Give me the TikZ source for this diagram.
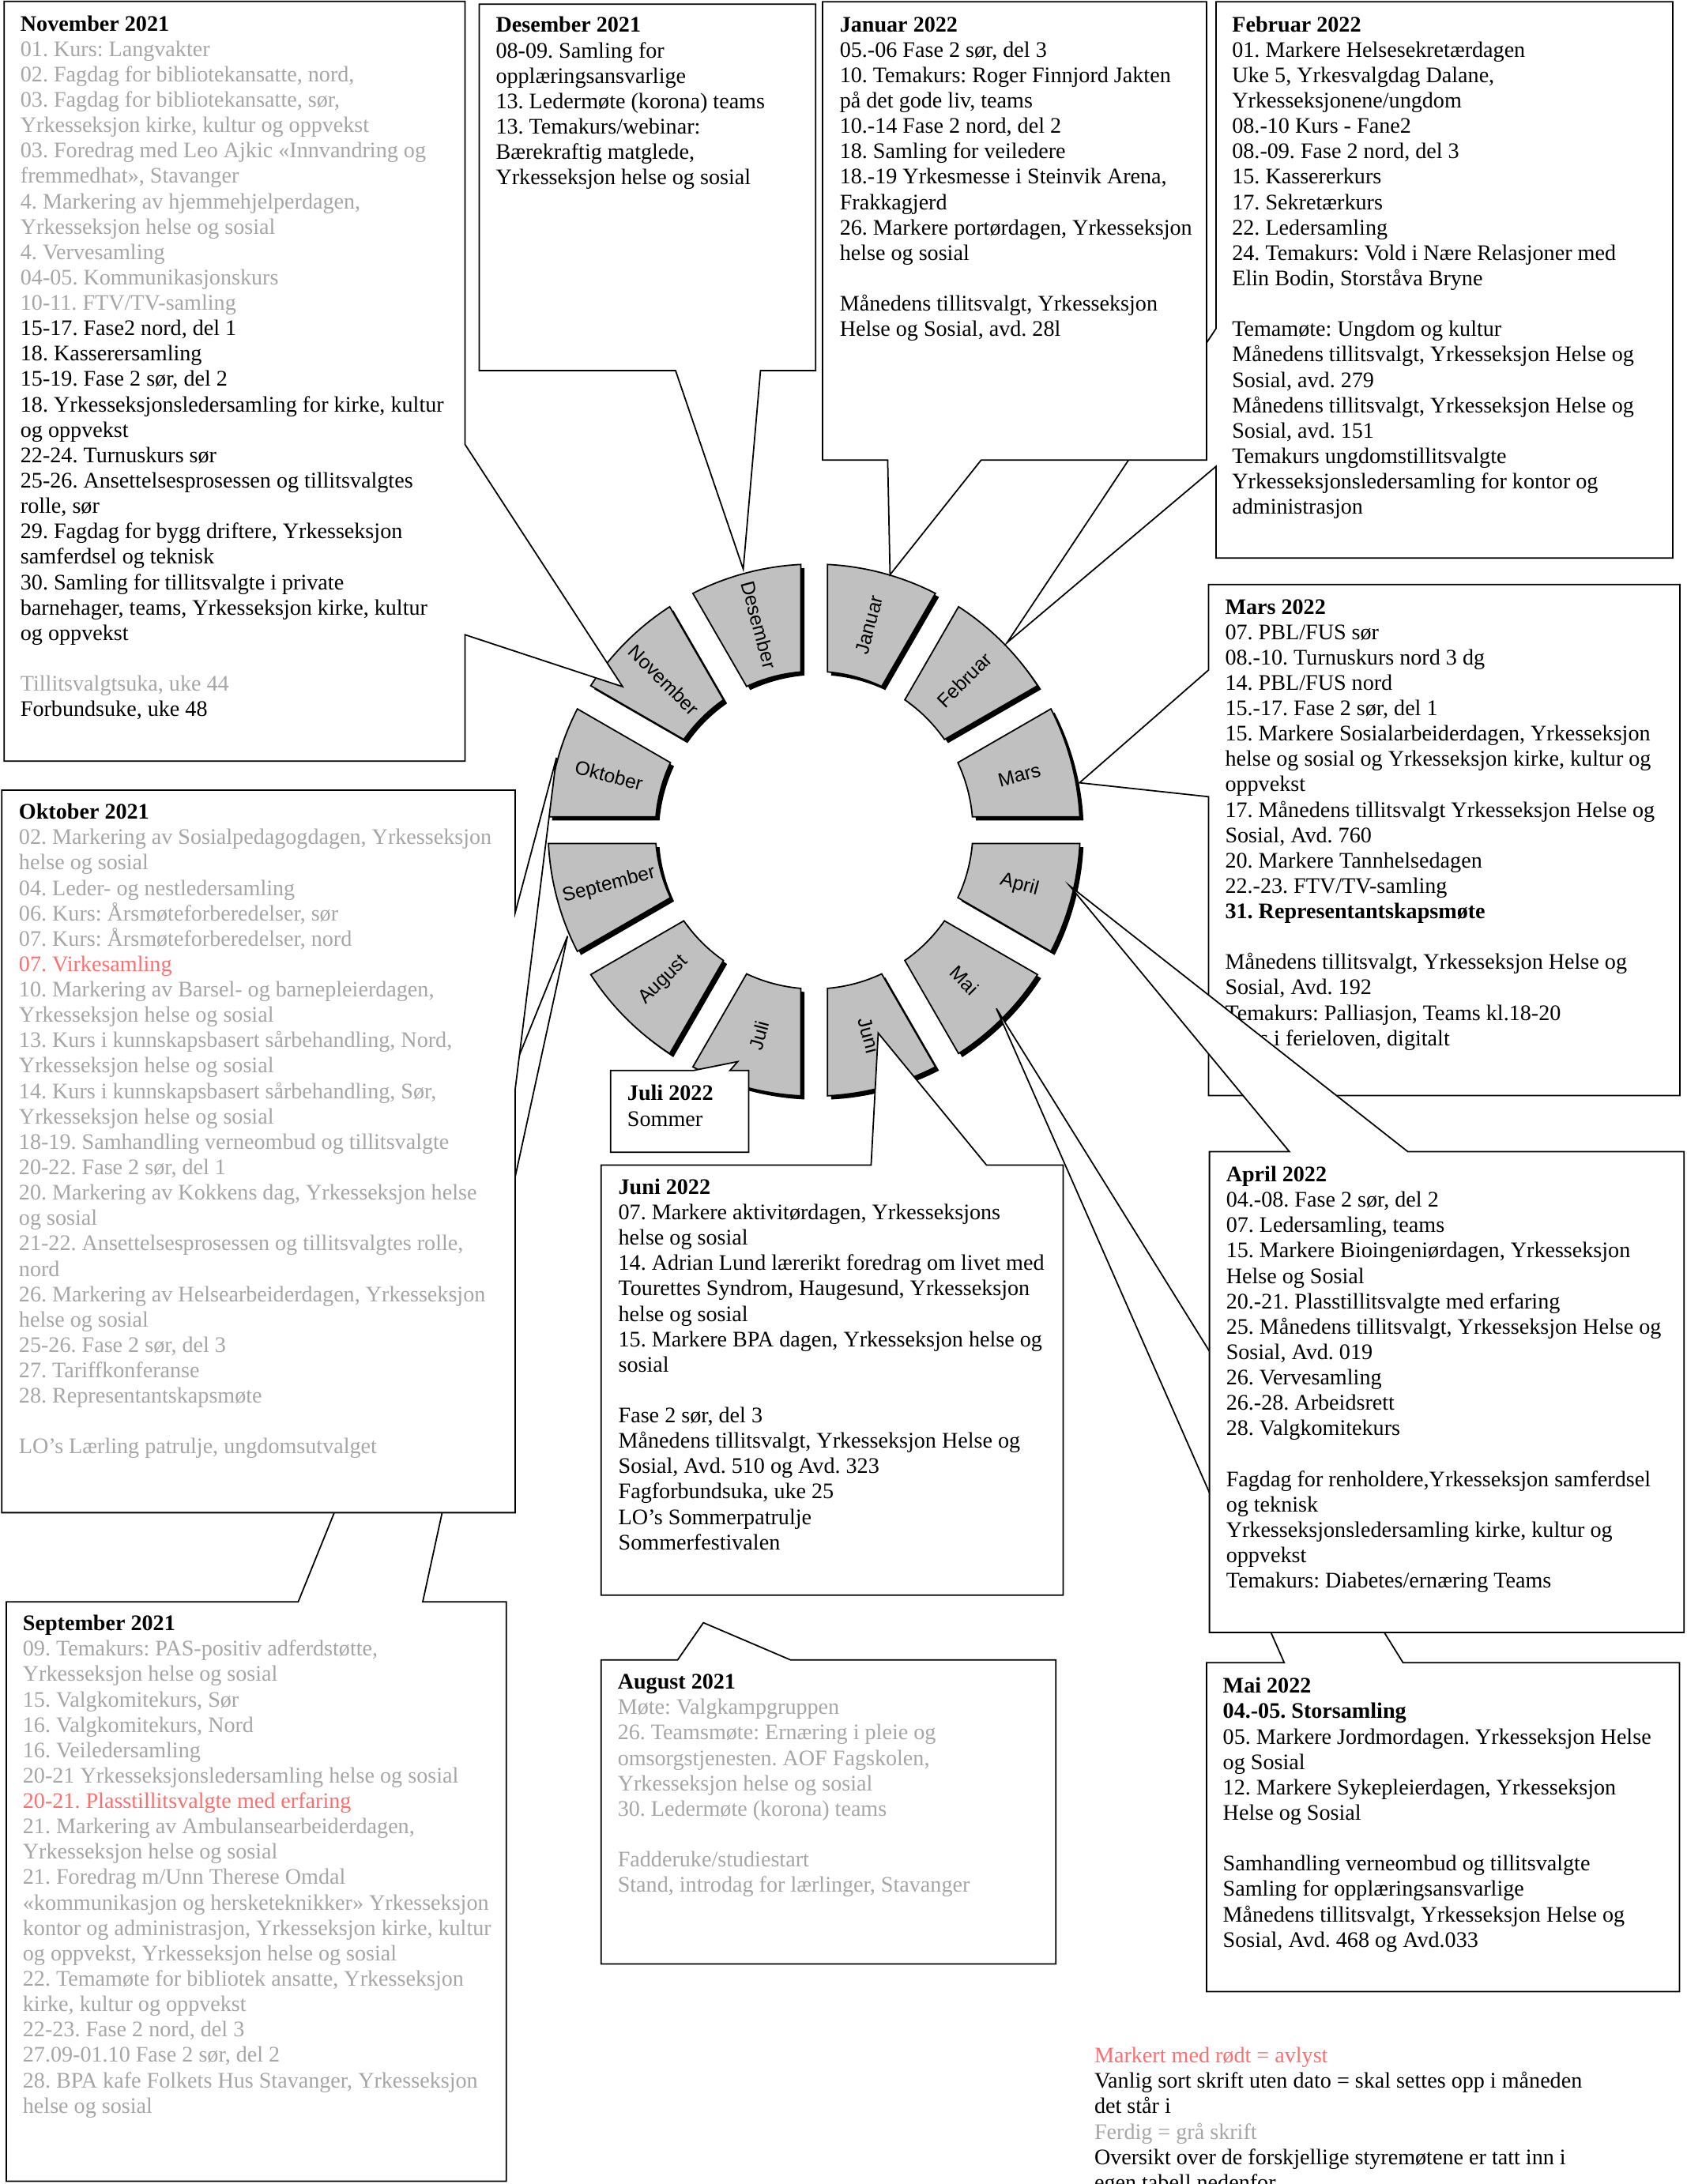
\documentclass[tikz,border=0pt]{standalone}
\usepackage{fontspec}
\setmainfont{Liberation Serif}
\newfontfamily\arialf{Liberation Sans}
\definecolor{gtx}{RGB}{166,166,166}
\definecolor{rtx}{RGB}{255,110,110}
\definecolor{seg}{RGB}{192,192,192}
\newcommand\gy{\color{gtx}}
\newcommand\rd{\color{rtx}}
\newcommand\bl{\\[\baselineskip]}
\newenvironment{boxtext}[1]{\begin{minipage}[t]{#1}\raggedright\leavevmode\ignorespaces}{\end{minipage}}
\begin{document}
\frenchspacing
\begin{tikzpicture}[x=0.017622cm, y=-0.017622cm,
  callout/.style={draw=black, fill=white, line width=0.5pt, line join=miter},
  txt/.style={anchor=base west, inner sep=0pt, font=\fontsize{8}{9.14}\selectfont},
  seglabel/.style={font=\arialf\fontsize{7}{8}\selectfont, inner sep=0pt}]
\useasboundingbox[fill=white] (0,0) rectangle (1211,1568);

% ---------------- ring ----------------
\begin{scope}[shift={(584.5,596)}, x=0.017622cm, y=0.017622cm]
  \begin{scope}[shift={(2.6,-2.6)}]
  \foreach \a in {60,30,0,-30,-60,-90,-120,-150,-180,150,120,90} {
    \pgfmathsetmacro\ao{\a+2.88}\pgfmathsetmacro\bo{\a+30-2.88}
    \pgfmathsetmacro\ai{\a+4.83}\pgfmathsetmacro\bi{\a+30-4.83}
    \fill[black] (\ao:191) arc[start angle=\ao, end angle=\bo, radius=191]
      -- (\bi:114) arc[start angle=\bi, end angle=\ai, radius=114] -- cycle;
  }
  \end{scope}
  \foreach \a in {60,30,0,-30,-60,-90,-120,-150,-180,150,120,90} {
    \pgfmathsetmacro\ao{\a+2.88}\pgfmathsetmacro\bo{\a+30-2.88}
    \pgfmathsetmacro\ai{\a+4.83}\pgfmathsetmacro\bi{\a+30-4.83}
    \filldraw[fill=seg, draw=black, line width=0.5pt] (\ao:191) arc[start angle=\ao, end angle=\bo, radius=191]
      -- (\bi:114) arc[start angle=\bi, end angle=\ai, radius=114] -- cycle;
  }
  \foreach \a/\nm/\r in {75/Januar/75, 45/Februar/45, 15/Mars/15, -15/April/-15,
      -45/Mai/-45, -75/Juni/-75, -105/Juli/75, -135/August/45, -165/September/15,
      165/Oktober/-15, 135/November/-45, 105/Desember/-75}
    \node[seglabel, rotate=\r] (m\nm) at (\a:152.5) {\nm};
\end{scope}

% ---------------- callouts ----------------
% Februar
\draw[callout] (873.1,1.3) -- (1200.9,1.3) -- (1200.9,400.7) -- (873.1,400.7) -- (873.1,334.8)
  -- (723,461.4) -- (873.1,235.8) -- cycle;
\node[txt] (tFeb) at (884.2,22.8) {\begin{boxtext}{5.5cm}
\textbf{Februar 2022}\\
01. Markere Helsesekretærdagen\\
Uke 5, Yrkesvalgdag Dalane,\\
Yrkesseksjonene/ungdom\\
08.-10 Kurs - Fane2\\
08.-09. Fase 2 nord, del 3\\
15. Kassererkurs\\
17. Sekretærkurs\\
22. Ledersamling\\
24. Temakurs: Vold i Nære Relasjoner med\\
Elin Bodin, Storståva Bryne\bl
Temamøte: Ungdom og kultur\\
Månedens tillitsvalgt, Yrkesseksjon Helse og\\
Sosial, avd. 279\\
Månedens tillitsvalgt, Yrkesseksjon Helse og\\
Sosial, avd. 151\\
Temakurs ungdomstillitsvalgte\\
Yrkesseksjonsledersamling for kontor og\\
administrasjon
\end{boxtext}};

% Januar
\draw[callout] (590.6,1.3) -- (866.3,1.3) -- (866.3,330.3) -- (704.4,330.3) -- (639,412.6)
  -- (637.3,330.3) -- (590.6,330.3) -- cycle;
\node[txt] (tJan) at (602.5,22.8) {\begin{boxtext}{4.58cm}
\textbf{Januar 2022}\\
05.-06 Fase 2 sør, del 3\\
10. Temakurs: Roger Finnjord Jakten\\
på det gode liv, teams\\
10.-14 Fase 2 nord, del 2\\
18. Samling for veiledere\\
18.-19 Yrkesmesse i Steinvik Arena,\\
Frakkagjerd\\
26. Markere portørdagen, Yrkesseksjon\\
helse og sosial\bl
Månedens tillitsvalgt, Yrkesseksjon\\
Helse og Sosial, avd. 28l
\end{boxtext}};

% Desember
\draw[callout] (344,3) -- (585.6,3) -- (585.6,266) -- (546,266) -- (533.6,408.6)
  -- (485,266) -- (344,266) -- cycle;
\node[txt] (tDes) at (355.6,23.2) {\begin{boxtext}{4.0cm}
\textbf{Desember 2021}\\
08-09. Samling for\\
opplæringsansvarlige\\
13. Ledermøte (korona) teams\\
13. Temakurs/webinar:\\
Bærekraftig matglede,\\
Yrkesseksjon helse og sosial
\end{boxtext}};

% November
\draw[callout] (3,1) -- (333.8,1) -- (333.8,319) -- (447,493) -- (333.8,455.7)
  -- (333.8,546.5) -- (3,546.5) -- cycle;
\node[txt] (tNov) at (14.3,22.2) {\begin{boxtext}{5.55cm}
\textbf{November 2021}\\
{\gy 01. Kurs: Langvakter\\
02. Fagdag for bibliotekansatte, nord,\\
03. Fagdag for bibliotekansatte, sør,\\
Yrkesseksjon kirke, kultur og oppvekst\\
03. Foredrag med Leo Ajkic «Innvandring og\\
fremmedhat», Stavanger\\
4. Markering av hjemmehjelperdagen,\\
Yrkesseksjon helse og sosial\\
4. Vervesamling\\
04-05. Kommunikasjonskurs\\
10-11. FTV/TV-samling}\\
15-17. Fase2 nord, del 1\\
18. Kasserersamling\\
15-19. Fase 2 sør, del 2\\
18. Yrkesseksjonsledersamling for kirke, kultur\\
og oppvekst\\
22-24. Turnuskurs sør\\
25-26. Ansettelsesprosessen og tillitsvalgtes\\
rolle, sør\\
29. Fagdag for bygg driftere, Yrkesseksjon\\
samferdsel og teknisk\\
30. Samling for tillitsvalgte i private\\
barnehager, teams, Yrkesseksjon kirke, kultur\\
og oppvekst\bl
{\gy Tillitsvalgtsuka, uke 44}\\
Forbundsuke, uke 48
\end{boxtext}};

% Mars
\draw[callout] (867.7,419.7) -- (1206,419.7) -- (1206,786.5) -- (867.7,786.5) -- (867.7,572)
  -- (775,562) -- (867.7,481) -- cycle;
\node[txt] (tMar) at (879.2,440.8) {\begin{boxtext}{5.69cm}
\textbf{Mars 2022}\\
07. PBL/FUS sør\\
08.-10. Turnuskurs nord 3 dg\\
14. PBL/FUS nord\\
15.-17. Fase 2 sør, del 1\\
15. Markere Sosialarbeiderdagen, Yrkesseksjon\\
helse og sosial og Yrkesseksjon kirke, kultur og\\
oppvekst\\
17. Månedens tillitsvalgt Yrkesseksjon Helse og\\
Sosial, Avd. 760\\
20. Markere Tannhelsedagen\\
22.-23. FTV/TV-samling\\
\textbf{31. Representantskapsmøte}\bl
Månedens tillitsvalgt, Yrkesseksjon Helse og\\
Sosial, Avd. 192\\
Temakurs: Palliasjon, Teams kl.18-20\\
Kurs i ferieloven, digitalt
\end{boxtext}};

% Mai
\draw[callout] (866.2,1193.7) -- (922,1193.7) -- (715.3,724) -- (1007.3,1193.7) -- (1205.8,1193.7)
  -- (1205.8,1429.8) -- (866.2,1429.8) -- cycle;
\node[txt] (tMai) at (877.6,1215.6) {\begin{boxtext}{5.7cm}
\textbf{Mai 2022}\\
\textbf{04.-05. Storsamling}\\
05. Markere Jordmordagen. Yrkesseksjon Helse\\
og Sosial\\
12. Markere Sykepleierdagen, Yrkesseksjon\\
Helse og Sosial\bl
Samhandling verneombud og tillitsvalgte\\
Samling for opplæringsansvarlige\\
Månedens tillitsvalgt, Yrkesseksjon Helse og\\
Sosial, Avd. 468 og Avd.033
\end{boxtext}};

% April
\draw[callout] (868.3,826.8) -- (925.7,826.8) -- (768,636) -- (1010.7,826.8) -- (1209,826.8)
  -- (1209,1172) -- (868.3,1172) -- cycle;
\node[txt] (tApr) at (879.9,848.4) {\begin{boxtext}{5.73cm}
\textbf{April 2022}\\
04.-08. Fase 2 sør, del 2\\
07. Ledersamling, teams\\
15. Markere Bioingeniørdagen, Yrkesseksjon\\
Helse og Sosial\\
20.-21. Plasstillitsvalgte med erfaring\\
25. Månedens tillitsvalgt, Yrkesseksjon Helse og\\
Sosial, Avd. 019\\
26. Vervesamling\\
26.-28. Arbeidsrett\\
28. Valgkomitekurs\bl
Fagdag for renholdere,Yrkesseksjon samferdsel\\
og teknisk\\
Yrkesseksjonsledersamling kirke, kultur og\\
oppvekst\\
Temakurs: Diabetes/ernæring Teams
\end{boxtext}};

% Juni
\draw[callout] (431.5,836.4) -- (625.4,836.4) -- (630.5,741.7) -- (708.2,836.4) -- (763.3,836.4)
  -- (763.3,1145.2) -- (431.5,1145.2) -- cycle;
\node[txt] (tJun) at (443.6,857.4) {\begin{boxtext}{5.57cm}
\textbf{Juni 2022}\\
07. Markere aktivitørdagen, Yrkesseksjons\\
helse og sosial\\
14. Adrian Lund lærerikt foredrag om livet med\\
Tourettes Syndrom, Haugesund, Yrkesseksjon\\
helse og sosial\\
15. Markere BPA dagen, Yrkesseksjon helse og\\
sosial\bl
Fase 2 sør, del 3\\
Månedens tillitsvalgt, Yrkesseksjon Helse og\\
Sosial, Avd. 510 og Avd. 323\\
Fagforbundsuka, uke 25\\
LO’s Sommerpatrulje\\
Sommerfestivalen
\end{boxtext}};

% Juli
\draw[callout] (438.4,768.6) -- (497.5,768.6) -- (529.6,762.2) -- (524,768.6) -- (537.5,768.6)
  -- (537.5,827.2) -- (438.4,827.2) -- cycle;
\node[txt] (tJul) at (450,790.2) {\begin{boxtext}{1.45cm}
\textbf{Juli 2022}\\
Sommer
\end{boxtext}};

% August
\draw[callout] (431.5,1191.7) -- (486.5,1191.7) -- (505,1165) -- (567.5,1191.7) -- (758,1191.7)
  -- (758,1410) -- (431.5,1410) -- cycle;
\node[txt] (tAug) at (443.1,1212.7) {\begin{boxtext}{5.48cm}
\textbf{August 2021}\\
{\gy Møte: Valgkampgruppen\\
26. Teamsmøte: Ernæring i pleie og\\
omsorgstjenesten. AOF Fagskolen,\\
Yrkesseksjon helse og sosial\\
30. Ledermøte (korona) teams\bl
Fadderuke/studiestart\\
Stand, introdag for lærlinger, Stavanger}
\end{boxtext}};

% September
\draw[callout] (4.6,1150) -- (214.1,1150) -- (407.5,672) -- (303.5,1150) -- (363.5,1150)
  -- (363.5,1566) -- (4.6,1566) -- cycle;
\node[txt] (tSep) at (16,1170.7) {\begin{boxtext}{6.06cm}
\textbf{September 2021}\\
{\gy 09. Temakurs: PAS-positiv adferdstøtte,\\
Yrkesseksjon helse og sosial\\
15. Valgkomitekurs, Sør\\
16. Valgkomitekurs, Nord\\
16. Veiledersamling\\
20-21 Yrkesseksjonsledersamling helse og sosial}\\
{\rd 20-21. Plasstillitsvalgte med erfaring}\\
{\gy 21. Markering av Ambulansearbeiderdagen,\\
Yrkesseksjon helse og sosial\\
21. Foredrag m/Unn Therese Omdal\\
«kommunikasjon og hersketeknikker» Yrkesseksjon\\
kontor og administrasjon, Yrkesseksjon kirke, kultur\\
og oppvekst, Yrkesseksjon helse og sosial\\
22. Temamøte for bibliotek ansatte, Yrkesseksjon\\
kirke, kultur og oppvekst\\
22-23. Fase 2 nord, del 3\\
27.09-01.10 Fase 2 sør, del 2\\
28. BPA kafe Folkets Hus Stavanger, Yrkesseksjon\\
helse og sosial}
\end{boxtext}};

% Oktober
\draw[callout] (1.3,567.3) -- (369.9,567.3) -- (369.9,655.2) -- (399.5,544) -- (369.9,781.8)
  -- (369.9,1086) -- (1.3,1086) -- cycle;
\node[txt] (tOkt) at (13.2,588.1) {\begin{boxtext}{6.22cm}
\textbf{Oktober 2021}\\
{\gy 02. Markering av Sosialpedagogdagen, Yrkesseksjon\\
helse og sosial\\
04. Leder- og nestledersamling\\
06. Kurs: Årsmøteforberedelser, sør\\
07. Kurs: Årsmøteforberedelser, nord}\\
{\rd 07. Virkesamling}\\
{\gy 10. Markering av Barsel- og barnepleierdagen,\\
Yrkesseksjon helse og sosial\\
13. Kurs i kunnskapsbasert sårbehandling, Nord,\\
Yrkesseksjon helse og sosial\\
14. Kurs i kunnskapsbasert sårbehandling, Sør,\\
Yrkesseksjon helse og sosial\\
18-19. Samhandling verneombud og tillitsvalgte\\
20-22. Fase 2 sør, del 1\\
20. Markering av Kokkens dag, Yrkesseksjon helse\\
og sosial\\
21-22. Ansettelsesprosessen og tillitsvalgtes rolle,\\
nord\\
26. Markering av Helsearbeiderdagen, Yrkesseksjon\\
helse og sosial\\
25-26. Fase 2 sør, del 3\\
27. Tariffkonferanse\\
28. Representantskapsmøte\bl
LO’s Lærling patrulje, ungdomsutvalget}
\end{boxtext}};

% Legend
\node[txt] (tLeg) at (785.3,1481) {\begin{boxtext}{6.6cm}
{\rd Markert med rødt = avlyst}\\
Vanlig sort skrift uten dato = skal settes opp i måneden\\
det står i\\
{\gy Ferdig = grå skrift}\\
Oversikt over de forskjellige styremøtene er tatt inn i\\
egen tabell nedenfor
\end{boxtext}};
\end{tikzpicture}
\end{document}
